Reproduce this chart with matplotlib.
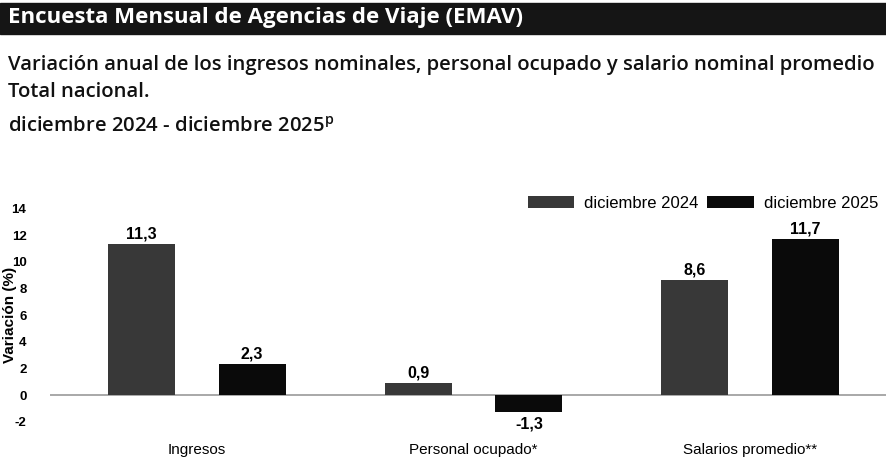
import matplotlib.pyplot as plt
import matplotlib.patches as mpatches
import numpy as np

categories = ['Ingresos', 'Personal ocupado*', 'Salarios promedio**']
dic_2024 = [11.3, 0.9, 8.6]
dic_2025 = [2.3, -1.3, 11.7]
series_names = ['diciembre 2024', 'diciembre 2025']
yticks = [-2, 0, 2, 4, 6, 8, 10, 12, 14]

W, H = 886, 467
fig = plt.figure(figsize=(W / 100, H / 100), dpi=100)
fig.patch.set_facecolor('white')

def fy(py):
    return 1 - py / H

# header band
fig.patches.append(mpatches.Rectangle((0, fy(34)), 1, 31 / H, transform=fig.transFigure,
                                      color='#151515', zorder=0))
fig.text(8 / W, fy(18), 'Encuesta Mensual de Agencias de Viaje (EMAV)', color='white',
         fontsize=16, fontweight='bold', family='Open Sans', va='center', ha='left')
sub_kw = dict(fontsize=14.6, fontweight='semibold', family='Open Sans', va='center',
              ha='left', color='#111111')
fig.text(8 / W, fy(65), 'Variación anual de los ingresos nominales, personal ocupado y salario nominal promedio', **sub_kw)
fig.text(8 / W, fy(92), 'Total nacional.', **sub_kw)
fig.text(8 / W, fy(127), 'diciembre 2024 - diciembre 2025$^{\\mathregular{p}}$', **sub_kw)

ax = fig.add_axes([50 / W, 32 / H, 836 / W, 240 / H])
x = np.arange(len(categories))
bw = 0.242
off = 0.2
b1 = ax.bar(x - off, dic_2024, bw, color='#383838', label=series_names[0])
b2 = ax.bar(x + off, dic_2025, bw, color='#0a0a0a', label=series_names[1])

for bars, vals in ((b1, dic_2024), (b2, dic_2025)):
    for b, v in zip(bars, vals):
        txt = f'{v:.1f}'.replace('.', ',')
        if v >= 0:
            ax.annotate(txt, (b.get_x() + b.get_width() / 2, v), xytext=(0, 2),
                        textcoords='offset points', ha='center', va='bottom',
                        fontsize=11.5, fontweight='bold', family='Liberation Sans')
        else:
            ax.annotate(txt, (b.get_x() + b.get_width() / 2, v), xytext=(0, -3),
                        textcoords='offset points', ha='center', va='top',
                        fontsize=11.5, fontweight='bold', family='Liberation Sans')

ax.axhline(0, color='#9a9a9a', lw=1.2, zorder=0)
ax.set_xlim(-0.53, 2.49)
ax.set_ylim(-3, 15)
ax.set_yticks(yticks)
ax.set_yticklabels([str(t) for t in yticks], fontsize=9.5, fontweight='bold', family='Liberation Sans')
ax.set_xticks(x)
ax.set_xticklabels(categories, fontsize=11, family='Liberation Sans')
ax.tick_params(axis='both', length=0)
ax.tick_params(axis='y', pad=17)
ax.tick_params(axis='x', pad=6)
for s in ax.spines.values():
    s.set_visible(False)
ax.set_ylabel('Variación (%)', fontsize=11, fontweight='bold', family='Liberation Sans', va='center')
ax.yaxis.set_label_coords(-0.048, 0.5)

ax.legend(loc='center right', bbox_to_anchor=(878 / W, fy(203)), bbox_transform=fig.transFigure,
          ncol=2, frameon=False, prop={'family': 'Liberation Sans', 'size': 12},
          handlelength=2.8, handleheight=0.75, columnspacing=0.5, handletextpad=0.6,
          borderpad=0, borderaxespad=0)

fig.savefig('out.png', dpi=100)
